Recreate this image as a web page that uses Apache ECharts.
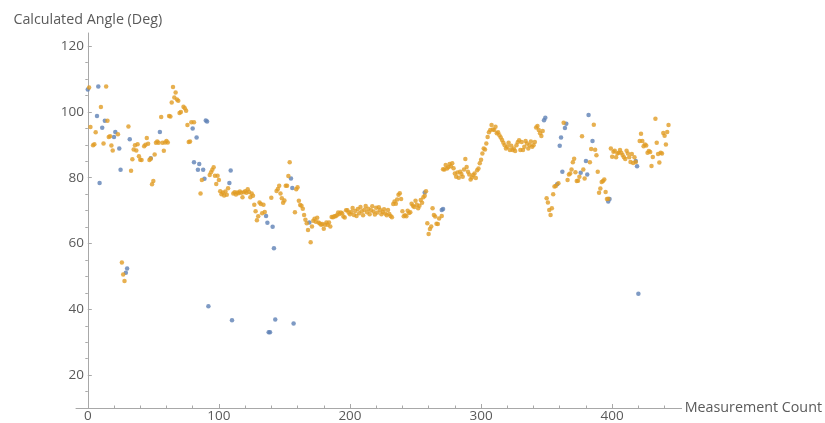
<!DOCTYPE html>
<html>
<head>
<meta charset="utf-8">
<script src="https://cdn.jsdelivr.net/npm/echarts@6/dist/echarts.min.js"></script>
<style>
  html, body { margin: 0; padding: 0; background: #ffffff; }
  #chart { width: 825px; height: 423px; }
</style>
</head>
<body>
<div id="chart"></div>
<script>
// Angle per measurement (orange series); index = measurement count, null = no sample
const angleOrange = [
  null, 107.4, 95.4, null, 89.9, 90.2, 93.8, null, null, null,
  101.5, null, 90.4, null, 107.7, 97.3, 92.4, 92.6, 89.8, 88.3,
  null, null, null, 93.2, null, null, 54.2, 50.6, 48.6, null,
  null, 95.6, null, 82.1, 85.6, 88.6, 89.9, 88.3, 90.2, 86.5,
  85.5, 85.4, null, 89.6, 90.0, 92.1, 90.3, 85.4, 85.8, 78.0,
  79.0, 87.1, 90.6, 91.0, 90.6, null, 98.5, 90.6, 88.2, 90.7,
  91.2, 90.7, 98.8, 98.6, 102.9, 107.6, 104.4, 105.9, 103.8, 103.4,
  99.7, 100.0, null, 101.6, 101.1, 100.4, 96.0, 90.9, 91.0, 96.9,
  null, 96.9, null, null, null, null, 75.2, 79.3, null, null,
  null, null, null, 80.8, 81.7, 82.4, 83.2, 80.6, 78.1, 80.6,
  79.3, 75.9, 75.0, 75.5, 74.6, 75.8, 74.8, 76.8, null, null,
  null, 75.2, 75.6, 74.9, 75.5, 75.3, 75.8, 75.4, 74.1, 75.6,
  75.9, 75.4, 76.5, 75.7, 74.1, 75.2, 74.5, 71.8, 69.8, 67.1,
  68.3, 72.5, 72.0, 69.2, 71.8, 69.6, null, null, null, null,
  73.9, null, null, null, 76.0, 76.6, 77.6, 75.2, 73.8, 72.4,
  73.1, 77.6, 77.6, 80.5, 84.7, null, null, null, 69.5, 76.5,
  77.1, 73.0, 71.7, 71.5, 70.6, 68.7, 67.2, 66.2, 64.1, null,
  60.4, 65.2, 66.9, 67.5, 66.6, 67.8, 66.4, 66.1, 65.7, 65.9,
  64.5, 65.7, 66.4, 65.7, 66.4, 65.2, 68.1, 68.0, 68.3, 68.3,
  68.6, 69.4, 69.0, 69.4, 69.2, 68.2, 67.9, 70.1, 70.1, 69.4,
  68.9, 69.6, 70.8, 68.7, 69.9, 68.4, 70.5, 69.2, 71.1, 69.8,
  68.6, 70.3, 71.4, 69.5, 70.6, 68.9, 70.1, 71.3, 69.7, 68.8,
  70.9, 69.4, 71.0, 70.2, 68.9, 69.6, 70.4, 69.1, 68.6, 70.2,
  69.0, 68.4, 68.0, 72.0, 72.8, 72.1, 73.4, 74.8, 75.3, 73.5,
  69.8, 68.3, 68.6, 68.3, 70.0, 69.3, 69.5, 72.1, 71.5, 71.1,
  73.0, 71.8, 70.7, 71.5, 73.2, 72.4, 74.1, 74.5, 75.9, 66.2,
  62.9, 64.4, 65.2, 70.7, 68.7, 68.2, 66.0, 65.9, 67.6, null,
  68.4, 82.6, 82.5, 83.9, 82.8, 83.2, 84.2, 83.5, 84.4, 82.9,
  81.3, 80.3, 81.6, 80.0, 81.8, 81.1, 80.3, 82.5, 85.7, 83.3,
  81.8, 81.0, 79.5, 80.1, 80.8, 81.3, 79.9, 82.3, 82.8, 84.4,
  85.5, 87.4, 88.9, 88.6, 90.4, 92.4, 93.8, 94.5, 96.0, 94.7,
  94.5, 95.5, 93.5, 93.8, 92.9, 92.2, 91.5, 90.6, 89.9, 88.9,
  89.4, 90.6, 88.4, 89.7, 88.4, 88.9, 88.1, 89.9, 90.8, 91.4,
  88.4, 90.9, 88.4, 89.4, 91.2, 90.4, 88.9, 89.9, 91.0, 89.4,
  89.9, 90.9, 95.3, 95.7, 94.5, 93.5, 92.7, 94.2, null, null,
  73.8, 72.5, 70.2, 68.7, 70.7, 75.0, 77.3, 77.5, null, 78.3,
  null, null, null, 96.7, null, null, 79.3, 81.0, 81.3, 82.5,
  84.7, 85.8, 81.7, 79.0, 79.1, 80.3, null, 92.6, 82.5, 79.8,
  null, null, null, 84.7, 88.7, null, 96.1, 88.5, 86.8, 81.8,
  75.4, 76.7, 78.7, 79.0, 79.5, 75.7, 73.5, 73.6, null, 88.9,
  86.4, 87.9, 88.2, 86.2, 87.4, 87.6, 88.4, 87.6, 86.9, 86.2,
  85.7, 88.2, 87.4, 86.2, 84.8, 87.2, 84.5, 86.2, 84.8, null,
  null, 91.2, 93.4, 91.2, 89.6, 90.1, 89.8, 87.6, 88.1, 87.8,
  83.6, 86.3, null, 97.9, 90.6, 87.2, 84.6, 87.6, 87.4, 93.6,
  92.8, 90.1, 93.9, 96.0
];

// Raw readings that differ from the orange series (blue series)
const blueCount = [
  0, 7, 8, 9, 11, 13, 20, 21, 24, 25,
  29, 30, 32, 48, 55, 80, 81, 83, 84, 85,
  88, 89, 90, 91, 92, 108, 109, 110, 136, 137,
  138, 139, 141, 142, 143, 155, 156, 157, 169, 257,
  270, 271, 348, 349, 358, 360, 361, 362, 364, 365,
  376, 380, 381, 382, 385, 397, 398, 418, 419, 420
];
const blueAngle = [
  106.8, 98.8, 107.7, 78.4, 95.2, 97.3, 92.4, 93.9, 88.9, 82.4,
  51.1, 52.4, 91.7, 85.9, 93.9, 95.0, 84.7, 92.2, 82.4, 84.2,
  82.4, 79.7, 97.4, 97.1, 40.9, 78.4, 82.2, 36.7, 68.4, 66.3,
  33.0, 33.0, 65.1, 58.6, 36.9, 79.8, 76.9, 35.7, 66.4, 75.5,
  70.2, 70.5, 97.5, 98.2, 78.0, 89.7, 92.2, 81.8, 95.1, 96.4,
  81.5, 85.1, 81.0, 99.1, 91.2, 72.8, 73.5, 85.1, 83.5, 44.7
];

// Tick positions
const xMajorTicks = [0, 100, 200, 300, 400];
const xMinorTicks = [20, 40, 60, 80, 120, 140, 160, 180, 220, 240, 260, 280, 320, 340, 360, 380, 420, 440];
const yMajorTicks = [20, 40, 60, 80, 100, 120];
const yMinorTicks = [15, 25, 30, 35, 45, 50, 55, 65, 70, 75, 85, 90, 95, 105, 110, 115];

const orangePoints = [];
angleOrange.forEach((v, i) => { if (v !== null) orangePoints.push([i, v]); });
const bluePoints = blueCount.map((c, i) => [c, blueAngle[i]]);

const AXIS_COLOR = '#a8a8a8';
const TEXT_COLOR = '#5a5a5a';
const FONT = 'Open Sans';
const FONT_SIZE = 13.5;
const NAME_SIZE = 14.3;

const chart = echarts.init(document.getElementById('chart'), null, { renderer: 'canvas' });

const xRange = { min: -9, max: 453 };
const yRange = { min: 10, max: 124 };

chart.setOption({
  animation: false,
  backgroundColor: '#ffffff',
  grid: { left: 76, right: 142, top: 33, bottom: 15, containLabel: false },
  xAxis: [
    {
      type: 'value', ...xRange, position: 'bottom',
      name: 'Measurement Count', nameLocation: 'end', nameGap: 3,
      nameTextStyle: { color: TEXT_COLOR, fontFamily: FONT, fontSize: NAME_SIZE, align: 'left', verticalAlign: 'middle', padding: [3, 0, 0, 0] },
      axisLine: { show: true, onZero: false, lineStyle: { color: AXIS_COLOR, width: 1 } },
      axisTick: { show: true, inside: true, length: 4, customValues: xMajorTicks, lineStyle: { color: AXIS_COLOR } },
      axisLabel: { show: true, customValues: xMajorTicks, color: TEXT_COLOR, fontFamily: FONT, fontSize: FONT_SIZE, margin: 1 },
      splitLine: { show: false }
    },
    {
      type: 'value', ...xRange, position: 'bottom',
      axisLine: { show: false, onZero: false },
      axisTick: { show: true, inside: true, length: 2.5, customValues: xMinorTicks, lineStyle: { color: AXIS_COLOR } },
      axisLabel: { show: false },
      splitLine: { show: false }
    }
  ],
  yAxis: [
    {
      type: 'value', ...yRange,
      name: 'Calculated Angle (Deg)', nameLocation: 'end', nameGap: 6,
      nameTextStyle: { color: TEXT_COLOR, fontFamily: FONT, fontSize: NAME_SIZE },
      axisLine: { show: true, onZero: true, onZeroAxisIndex: 0, lineStyle: { color: AXIS_COLOR, width: 1 } },
      axisTick: { show: true, inside: true, length: 4, customValues: yMajorTicks, lineStyle: { color: AXIS_COLOR } },
      axisLabel: { show: true, customValues: yMajorTicks, color: TEXT_COLOR, fontFamily: FONT, fontSize: FONT_SIZE, margin: -8 },
      splitLine: { show: false }
    },
    {
      type: 'value', ...yRange,
      axisLine: { show: false, onZero: true, onZeroAxisIndex: 0 },
      axisTick: { show: true, inside: true, length: 2.5, customValues: yMinorTicks, lineStyle: { color: AXIS_COLOR } },
      axisLabel: { show: false },
      splitLine: { show: false }
    }
  ],
  series: [
    {
      name: 'Raw', type: 'scatter', xAxisIndex: 0, yAxisIndex: 0,
      data: bluePoints, symbol: 'circle', symbolSize: 4.5,
      itemStyle: { color: '#5E81B5' }, z: 2
    },
    {
      name: 'Angle', type: 'scatter', xAxisIndex: 0, yAxisIndex: 0,
      data: orangePoints, symbol: 'circle', symbolSize: 4.5,
      itemStyle: { color: '#E19C24' }, z: 3
    }
  ]
});
</script>
</body>
</html>
